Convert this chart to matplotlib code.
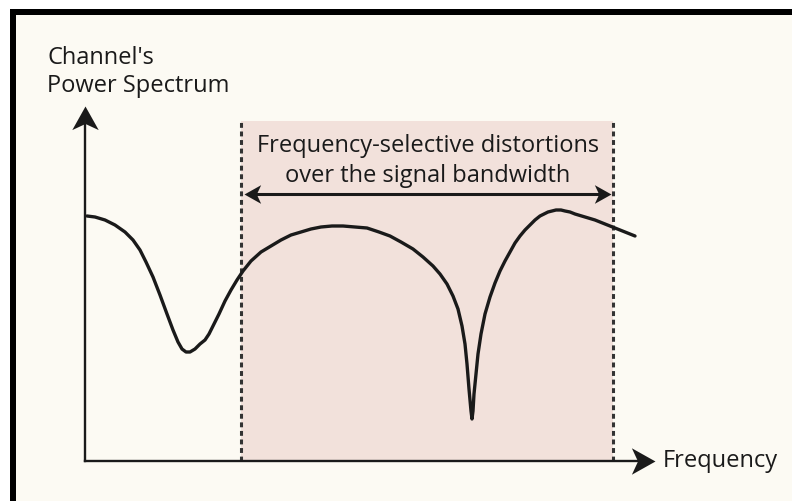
import matplotlib.pyplot as plt
from matplotlib.patches import Rectangle
from matplotlib.path import Path
from matplotlib.markers import MarkerStyle

# channel power spectrum (arbitrary units)
freq = [2, 10, 20, 30, 40, 48, 55, 61, 68, 75, 82, 88, 93, 97, 101, 105, 110,
        115, 120, 124, 129, 134, 140, 146, 152, 158, 166, 176, 186, 196, 206,
        216, 226, 236, 247, 258, 270, 282, 294, 305, 316, 328, 338, 348, 355,
        362, 368, 373, 377, 380, 382, 384, 386, 387, 388, 389, 391, 393, 396,
        400, 405, 410, 415, 420, 425, 430, 435, 440, 445, 450, 455, 459, 463,
        467, 471, 476, 480, 485, 490, 500, 510, 520, 530, 540, 550]
power = [245, 244, 241, 236, 229, 221, 211, 199, 184, 166, 147, 131, 119, 112,
         109, 109, 112, 117, 121, 127, 137, 147, 160, 171, 181, 190, 200, 209,
         215, 221, 226, 229, 232, 234, 235, 235, 234, 233, 229, 225, 219, 212,
         204, 195, 187, 177, 165, 152, 135, 117, 97, 72, 50, 42, 50, 67, 87,
         107, 127, 147, 164, 178, 190, 200, 209, 218, 225, 231, 236, 241, 245,
         247, 249, 250, 251, 251, 250, 249, 247, 244, 241, 237, 233, 229, 225]

band = [156, 528]      # signal bandwidth edges
band_top = 340
x_end = 570
y_end = 355
arrow_y = 267

ylabel = "Channel's\nPower Spectrum"
xlabel = "Frequency"
band_text = ["Frequency-selective distortions", "over the signal bandwidth"]

cream = "#fcfaf3"
pink = "#f2e1db"
ink = "#1a1a1a"
font = "Open Sans"
fs = 17

fig = plt.figure(figsize=(7.92, 5.02), dpi=100, facecolor="white")
W, H = 792.0, 502.0
# page background and thick black frame on top / left
fig.patches.append(Rectangle((10 / W, 0), 782 / W, 492 / H, transform=fig.transFigure,
                             facecolor=cream, edgecolor="none", zorder=-3))
fig.patches.append(Rectangle((10 / W, 486 / H), 782 / W, 6 / H, transform=fig.transFigure,
                             facecolor="black", edgecolor="none", zorder=-2))
fig.patches.append(Rectangle((10 / W, 0), 6 / W, 492 / H, transform=fig.transFigure,
                             facecolor="black", edgecolor="none", zorder=-2))

ax = fig.add_axes([0, 0, 1, 1])
ax.patch.set_visible(False)
ax.set_xlim(-85, 707)
ax.set_ylim(-40, 462)
ax.axis("off")

# stealth-style arrow head pointing right, tip at the origin
head = Path([(0, 0), (-1, 0.56), (-0.74, 0), (-1, -0.56), (0, 0)],
            [Path.MOVETO, Path.LINETO, Path.LINETO, Path.LINETO, Path.CLOSEPOLY])
right = MarkerStyle(head)
up = MarkerStyle(head).rotated(deg=90)
left = MarkerStyle(head).rotated(deg=180)

# shaded band with dotted edges
ax.axvspan(band[0], band[1], ymin=(0 + 40) / 502, ymax=(band_top + 40) / 502,
           facecolor=pink, edgecolor="none", zorder=1)
for b in band:
    ax.plot([b, b], [0, band_top], color="#333333", lw=2.2,
            linestyle=(0, (1.6, 1.2)), zorder=2)

# axes
ax.plot([0, 0], [0, y_end - 10], color=ink, lw=1.7, zorder=4)
ax.plot([0, x_end - 10], [0, 0], color=ink, lw=1.7, zorder=4)
ax.plot(0, y_end, marker=up, ms=34, color=ink, mew=0, zorder=5)
ax.plot(x_end, 0, marker=right, ms=34, color=ink, mew=0, zorder=5)

# double arrow across the band
ax.plot([band[0] + 8, band[1] - 8], [arrow_y, arrow_y], color=ink, lw=2.2, zorder=4)
ax.plot(band[1] - 2, arrow_y, marker=right, ms=24, color=ink, mew=0, zorder=5)
ax.plot(band[0] + 3, arrow_y, marker=left, ms=24, color=ink, mew=0, zorder=5)

ax.plot(freq, power, color=ink, lw=2.4, solid_joinstyle="round",
        solid_capstyle="round", zorder=3)

ax.text(-38, 370, ylabel, fontsize=fs, family=font, color=ink,
        ha="left", va="baseline", linespacing=1.22)
ax.text(578, -5, xlabel, fontsize=fs, family=font, color=ink,
        ha="left", va="baseline")
ax.text(343, 310, band_text[0], fontsize=fs, family=font, color=ink,
        ha="center", va="baseline")
ax.text(343, 280, band_text[1], fontsize=fs, family=font, color=ink,
        ha="center", va="baseline")

fig.savefig("out.png", dpi=100, facecolor="white")
